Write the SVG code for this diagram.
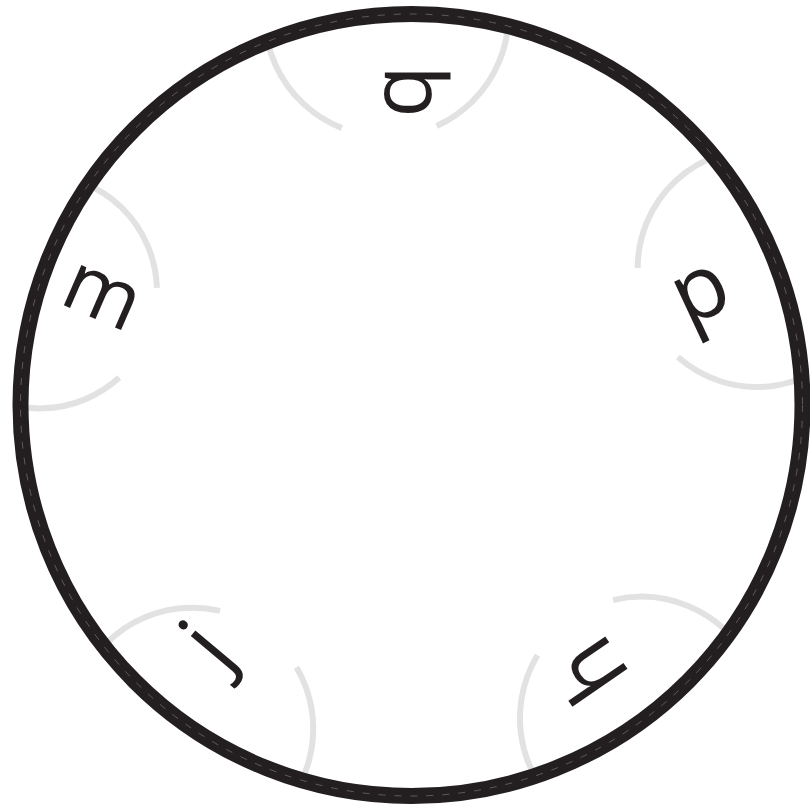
<svg xmlns="http://www.w3.org/2000/svg" width="810" height="805" viewBox="0 0 810 805">
  <style>
    .arc { fill: none; stroke: #e2e2e2; stroke-width: 6; }
    .ltr { font-family: "Open Sans", "Liberation Sans", Arial, sans-serif; font-weight: 400; fill: #231f20; text-anchor: middle; }
  </style>
  <defs>
    <clipPath id="inside">
      <circle cx="411.5" cy="405" r="391"/>
    </clipPath>
  </defs>
  <rect x="0" y="0" width="810" height="805" fill="#ffffff"/>
  <g id="arcs" clip-path="url(#inside)">
    <g id="node-b-arc">
      <path class="arc" d="M341.9,128.1 A122,122 0 0 1 272.0,-27.1"/>
      <path class="arc" d="M436.6,125.9 A122,122 0 0 0 501.2,-27.1"/>
    </g>
    <g id="node-p-arc">
      <path class="arc" d="M637.7,268 A119,119 0 0 1 767.1,149.5"/>
      <path class="arc" d="M677.9,357.1 A119,119 0 0 0 859.8,327.5"/>
    </g>
    <g id="node-h-arc">
      <path class="arc" d="M613.0,600.1 A121.5,121.5 0 0 1 746.6,657.5"/>
      <path class="arc" d="M537.5,655.3 A121.5,121.5 0 0 0 580.7,823.4"/>
    </g>
    <g id="node-j-arc">
      <path class="arc" d="M220.0,610.9 A121,121 0 0 0 78.5,687.3"/>
      <path class="arc" d="M296.5,667.3 A121,121 0 0 1 252.7,833.5"/>
    </g>
    <g id="node-m-arc">
      <path class="arc" d="M156.9,287.9 A117,117 0 0 0 40,174.4"/>
      <path class="arc" d="M119.2,377.5 A117,117 0 0 1 -35.2,381"/>
    </g>
  </g>
  <g id="connectors">
    <circle cx="411.5" cy="405" r="391" fill="none" stroke="#231f20" stroke-width="16"/>
    <circle cx="411.5" cy="405" r="391" fill="none" stroke="#8a8a8a" stroke-width="1" stroke-dasharray="7 9" opacity="0.55"/>
  </g>
  <g id="node-b">
    <text class="ltr" font-size="86" transform="translate(416.5,91.5) rotate(90)" y="32">b</text>
  </g>
  <g id="node-p">
    <text class="ltr" font-size="88" transform="translate(706,304) rotate(-25)" y="13.5">p</text>
  </g>
  <g id="node-h">
    <text class="ltr" font-size="88" transform="translate(590,671) rotate(-124.5)" y="32">h</text>
  </g>
  <g id="node-j">
    <text class="ltr" font-size="88" transform="translate(212,649) rotate(-50)" y="22.5">j</text>
  </g>
  <g id="node-m">
    <text class="ltr" font-size="82" transform="translate(101,297.5) rotate(23.5)" y="22">m</text>
  </g>
</svg>
